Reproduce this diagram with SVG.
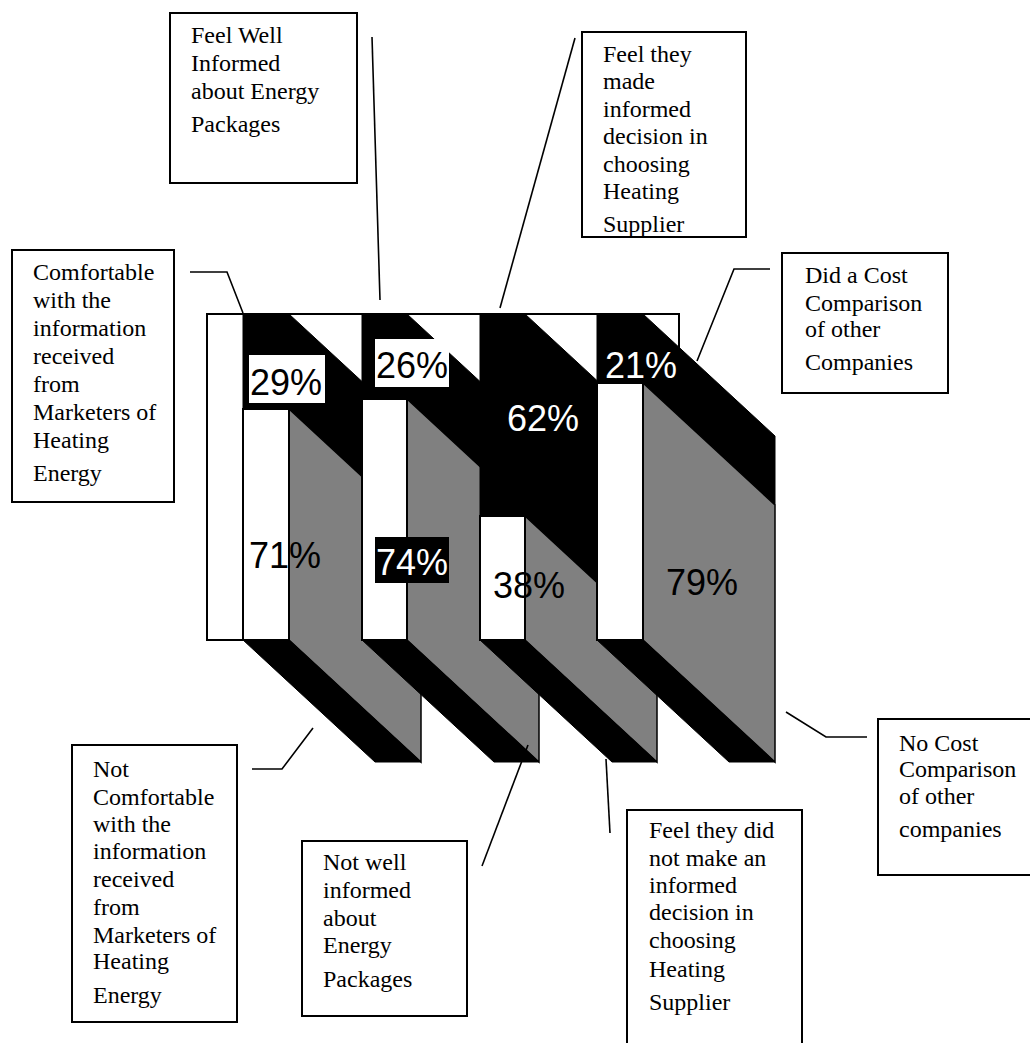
<svg xmlns="http://www.w3.org/2000/svg" width="1030" height="1043" viewBox="0 0 1030 1043">
<style>
.frame{fill:#fff;stroke:#000;stroke-width:2}
.blk{fill:#000;stroke:#000;stroke-width:1}
.gry{fill:#808080;stroke:#000;stroke-width:1.5}
.wht{fill:#fff;stroke:#000;stroke-width:2}
.pct{font-family:"Liberation Sans",Arial,sans-serif;font-size:36px}
.box{fill:#fff;stroke:#000;stroke-width:2}
.lbl{font-family:"Liberation Serif","Times New Roman",serif;font-size:24px;fill:#000}
.con{fill:none;stroke:#000;stroke-width:1.6}
</style>
<rect width="1030" height="1043" fill="#fff"/>
<g id="chart">
<rect class="frame" x="207" y="314" width="472" height="326"/>
<g id="bar1">
<polygon class="blk" points="289,314 421,436 421,531 289,409"/>
<polygon class="gry" points="289,409 421,531 421,762 289,640"/>
<polygon class="blk" points="243,640 289,640 421,762 375,762"/>
<rect class="blk" x="243" y="314" width="46" height="95"/>
<rect class="wht" x="243" y="409" width="46" height="231"/>
</g>
<g id="bar2">
<polygon class="blk" points="407,314 539,436 539,521 407,399"/>
<polygon class="gry" points="407,399 539,521 539,762 407,640"/>
<polygon class="blk" points="362,640 407,640 539,762 494,762"/>
<rect class="blk" x="362" y="314" width="45" height="85"/>
<rect class="wht" x="362" y="399" width="45" height="241"/>
</g>
<g id="bar3">
<polygon class="blk" points="525,314 657,436 657,638 525,516"/>
<polygon class="gry" points="525,516 657,638 657,762 525,640"/>
<polygon class="blk" points="480,640 525,640 657,762 612,762"/>
<rect class="blk" x="480" y="314" width="45" height="202"/>
<rect class="wht" x="480" y="516" width="45" height="124"/>
</g>
<g id="bar4">
<polygon class="blk" points="643,314 775,436 775,505 643,383"/>
<polygon class="gry" points="643,383 775,505 775,762 643,640"/>
<polygon class="blk" points="597,640 643,640 775,762 729,762"/>
<rect class="blk" x="597" y="314" width="46" height="69"/>
<rect class="wht" x="597" y="383" width="46" height="257"/>
</g>
<g id="values">
<rect x="249" y="355" width="76" height="48" fill="#fff"/>
<text class="pct" x="250" y="395" fill="#000">29%</text>
<rect x="375" y="339" width="74" height="48" fill="#fff"/>
<text class="pct" x="376" y="378" fill="#000">26%</text>
<text class="pct" x="507" y="431" fill="#fff">62%</text>
<text class="pct" x="605" y="378" fill="#fff">21%</text>
<text class="pct" x="249" y="568" fill="#000">71%</text>
<rect x="375" y="537" width="74" height="46" fill="#000"/>
<text class="pct" x="376" y="575" fill="#fff">74%</text>
<text class="pct" x="493" y="598" fill="#000">38%</text>
<text class="pct" x="666" y="595" fill="#000">79%</text>
</g>
</g>
<g id="connectors">
<polyline class="con" points="372,37 380,300"/>
<polyline class="con" points="190,272 227,272 243,313"/>
<polyline class="con" points="575,38 500,308"/>
<polyline class="con" points="770,269 734,269 697,361"/>
<polyline class="con" points="252,769 282,769 313,728"/>
<polyline class="con" points="482,866 528,745"/>
<polyline class="con" points="606,759 610,833"/>
<polyline class="con" points="786,712 826,737 867,737"/>
</g>
<g id="label-well-informed">
<rect class="box" x="170" y="13" width="187" height="170"/>
<text class="lbl"><tspan x="191" y="43">Feel Well</tspan><tspan x="191" y="71">Informed</tspan><tspan x="191" y="99">about Energy</tspan><tspan x="191" y="132">Packages</tspan></text>
</g>
<g id="label-comfortable">
<rect class="box" x="12" y="250" width="162" height="252"/>
<text class="lbl"><tspan x="33" y="280">Comfortable</tspan><tspan x="33" y="308">with the</tspan><tspan x="33" y="336">information</tspan><tspan x="33" y="364">received</tspan><tspan x="33" y="392">from</tspan><tspan x="33" y="420">Marketers of</tspan><tspan x="33" y="448">Heating</tspan><tspan x="33" y="481">Energy</tspan></text>
</g>
<g id="label-made-informed">
<rect class="box" x="582" y="32" width="164" height="205"/>
<text class="lbl"><tspan x="603" y="62">Feel they</tspan><tspan x="603" y="89">made</tspan><tspan x="603" y="117">informed</tspan><tspan x="603" y="144">decision in</tspan><tspan x="603" y="172">choosing</tspan><tspan x="603" y="199">Heating</tspan><tspan x="603" y="232">Supplier</tspan></text>
</g>
<g id="label-cost-comparison">
<rect class="box" x="782" y="253" width="166" height="140"/>
<text class="lbl"><tspan x="805" y="283">Did a Cost</tspan><tspan x="805" y="311">Comparison</tspan><tspan x="805" y="337">of other</tspan><tspan x="805" y="370">Companies</tspan></text>
</g>
<g id="label-not-comfortable">
<rect class="box" x="72" y="745" width="165" height="277"/>
<text class="lbl"><tspan x="93" y="777">Not</tspan><tspan x="93" y="805">Comfortable</tspan><tspan x="93" y="832">with the</tspan><tspan x="93" y="859">information</tspan><tspan x="93" y="887">received</tspan><tspan x="93" y="915">from</tspan><tspan x="93" y="943">Marketers of</tspan><tspan x="93" y="969">Heating</tspan><tspan x="93" y="1003">Energy</tspan></text>
</g>
<g id="label-not-well-informed">
<rect class="box" x="302" y="841" width="165" height="175"/>
<text class="lbl"><tspan x="323" y="870">Not well</tspan><tspan x="323" y="898">informed</tspan><tspan x="323" y="926">about</tspan><tspan x="323" y="953">Energy</tspan><tspan x="323" y="987">Packages</tspan></text>
</g>
<g id="label-not-informed-decision">
<rect class="box" x="627" y="810" width="175" height="250"/>
<text class="lbl"><tspan x="649" y="838">Feel they did</tspan><tspan x="649" y="866">not make an</tspan><tspan x="649" y="893">informed</tspan><tspan x="649" y="920">decision in</tspan><tspan x="649" y="948">choosing</tspan><tspan x="649" y="977">Heating</tspan><tspan x="649" y="1010">Supplier</tspan></text>
</g>
<g id="label-no-cost-comparison">
<rect class="box" x="878" y="719" width="160" height="156"/>
<text class="lbl"><tspan x="899" y="751">No Cost</tspan><tspan x="899" y="777">Comparison</tspan><tspan x="899" y="804">of other</tspan><tspan x="899" y="837">companies</tspan></text>
</g>
</svg>
